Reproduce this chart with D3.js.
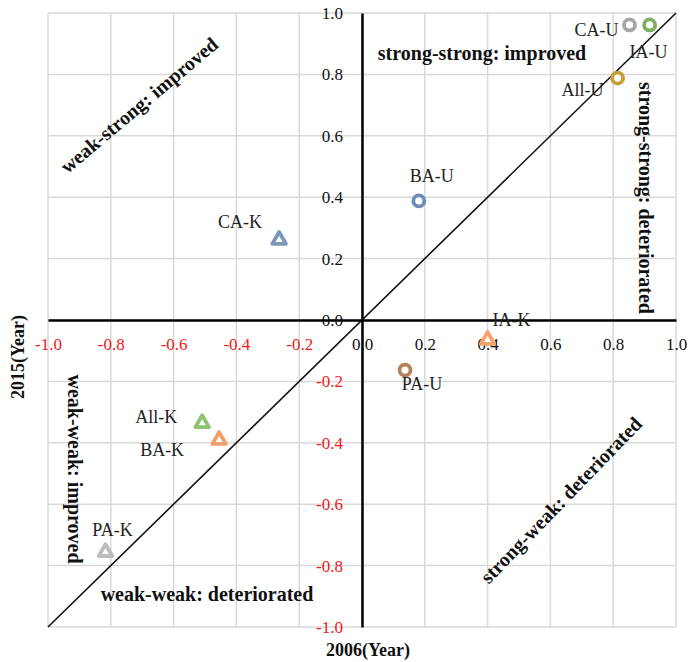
<!DOCTYPE html>
<html>
<head>
<meta charset="utf-8">
<script src="https://cdn.jsdelivr.net/npm/d3@7"></script>
<style>
  body { margin: 0; background: #fff; }
  svg text { font-family: "Liberation Serif", "Times New Roman", serif; }
  .grid line { stroke: #d9d9d9; stroke-width: 1.5; }
  .axis .domain { stroke: #000; stroke-width: 2.5; }
  .pt-label { font-size: 18px; fill: #222; }
  .zone { font-size: 20px; font-weight: bold; fill: #111; }
  .title { font-size: 18px; font-weight: bold; fill: #111; }
</style>
</head>
<body>
<svg id="chart" width="688" height="662"></svg>
<script>
// ── Data ───────────────────────────────────────────────
const names   = ['CA-U', 'IA-U', 'All-U', 'BA-U', 'PA-U', 'IA-K', 'CA-K', 'All-K', 'BA-K', 'PA-K'];
const x2006   = [0.852, 0.916, 0.814, 0.181, 0.137, 0.40, -0.264, -0.509, -0.455, -0.817];
const y2015   = [0.961, 0.961, 0.788, 0.388, -0.163, -0.065, 0.261, -0.336, -0.391, -0.756];
const shapes  = ['circle', 'circle', 'circle', 'circle', 'circle', 'triangle', 'triangle', 'triangle', 'triangle', 'triangle'];
const colors  = ['#a6a6a6', '#7fae62', '#c4a136', '#6d8cb8', '#b5835b', '#f3a26c', '#7897b9', '#8dc56f', '#f0a06a', '#bcbcbc'];
// label offsets from the marker, in px
const labelDx = [-33, -1, -35, 13, 17, 24, -39, -46, -57, 7];
const labelDy = [5, 27, 12, -25, 14, -20, -18, -6, 10, -22];

const xTicks = [-1.0, -0.8, -0.6, -0.4, -0.2, 0.0, 0.2, 0.4, 0.6, 0.8, 1.0];
const yTicks = [-1.0, -0.8, -0.6, -0.4, -0.2, 0.0, 0.2, 0.4, 0.6, 0.8, 1.0];

// quadrant annotations: text, x, y (px), rotation
const zones = [
    { text: 'strong-strong: improved',     x: 482, y: 53,  rot: 0 },
    { text: 'weak-strong: improved',       x: 139, y: 105, rot: -40 },
    { text: 'strong-strong: deteriorated', x: 646, y: 198, rot: 90 },
    { text: 'weak-weak: improved',         x: 75,  y: 469, rot: 90 },
    { text: 'weak-weak: deteriorated',     x: 207, y: 594, rot: 0 },
    { text: 'strong-weak: deteriorated',   x: 561, y: 500, rot: -46 }
];

const svg = d3.select('#chart');
const x = d3.scaleLinear().domain([-1, 1]).range([48, 676]);
const y = d3.scaleLinear().domain([-1, 1]).range([627, 13]);
const fmt = d => d.toFixed(1);
const tickColor = d => d < 0 ? '#f01818' : '#111';

// ── Grid ───────────────────────────────────────────────
const grid = svg.append('g').attr('class', 'grid');
grid.selectAll('line.v').data(xTicks).join('line')
    .attr('class', 'v')
    .attr('x1', d => x(d)).attr('x2', d => x(d))
    .attr('y1', y(1)).attr('y2', y(-1));
grid.selectAll('line.h').data(yTicks).join('line')
    .attr('class', 'h')
    .attr('x1', x(-1)).attr('x2', x(1))
    .attr('y1', d => y(d)).attr('y2', d => y(d));

// diagonal y = x
svg.append('line')
    .attr('x1', x(-1)).attr('y1', y(-1))
    .attr('x2', x(1)).attr('y2', y(1))
    .attr('stroke', '#111').attr('stroke-width', 1.6);

// ── Axes through the origin ────────────────────────────
svg.append('g').attr('class', 'axis')
    .attr('transform', `translate(0,${y(0)})`)
    .call(d3.axisBottom(x).tickValues(xTicks).tickFormat(fmt).tickSize(0).tickSizeOuter(0).tickPadding(18));

svg.append('g').attr('class', 'axis')
    .attr('transform', `translate(${x(0)},0)`)
    .call(d3.axisLeft(y).tickValues(yTicks).tickFormat(fmt).tickSize(0).tickSizeOuter(0).tickPadding(19));

svg.selectAll('.axis')
    .attr('font-family', null).attr('font-size', null)
    .selectAll('text')
    .style('font-family', '"Liberation Serif", "Times New Roman", serif')
    .style('font-size', '17px')
    .attr('fill', tickColor);

// ── Zone annotations ───────────────────────────────────
svg.selectAll('text.zone').data(zones).join('text')
    .attr('class', 'zone')
    .attr('text-anchor', 'middle')
    .attr('dominant-baseline', 'central')
    .attr('transform', d => `translate(${d.x},${d.y}) rotate(${d.rot})`)
    .text(d => d.text);

// ── Points ─────────────────────────────────────────────
const idx = d3.range(names.length);
const tri = d3.symbol().type(d3.symbolTriangle).size(80);

const pts = svg.append('g').selectAll('g').data(idx).join('g')
    .attr('transform', i => `translate(${x(x2006[i])},${y(y2015[i])})`);

pts.filter(i => shapes[i] === 'circle').append('circle')
    .attr('r', 5.5)
    .attr('fill', '#fff')
    .attr('stroke', i => colors[i])
    .attr('stroke-width', 3.8);

pts.filter(i => shapes[i] === 'triangle').append('path')
    .attr('d', tri)
    .attr('fill', '#fff')
    .attr('stroke', i => colors[i])
    .attr('stroke-width', 3.8)
    .attr('stroke-linejoin', 'round');

svg.append('g').selectAll('text').data(idx).join('text')
    .attr('class', 'pt-label')
    .attr('text-anchor', 'middle')
    .attr('dominant-baseline', 'central')
    .attr('x', i => x(x2006[i]) + labelDx[i])
    .attr('y', i => y(y2015[i]) + labelDy[i])
    .text(i => names[i]);

// ── Axis titles ────────────────────────────────────────
svg.append('text').attr('class', 'title')
    .attr('text-anchor', 'middle')
    .attr('x', 368).attr('y', 656)
    .text('2006(Year)');

svg.append('text').attr('class', 'title')
    .attr('text-anchor', 'middle')
    .attr('dominant-baseline', 'central')
    .attr('transform', 'translate(18,357) rotate(-90)')
    .text('2015(Year)');
</script>
</body>
</html>
